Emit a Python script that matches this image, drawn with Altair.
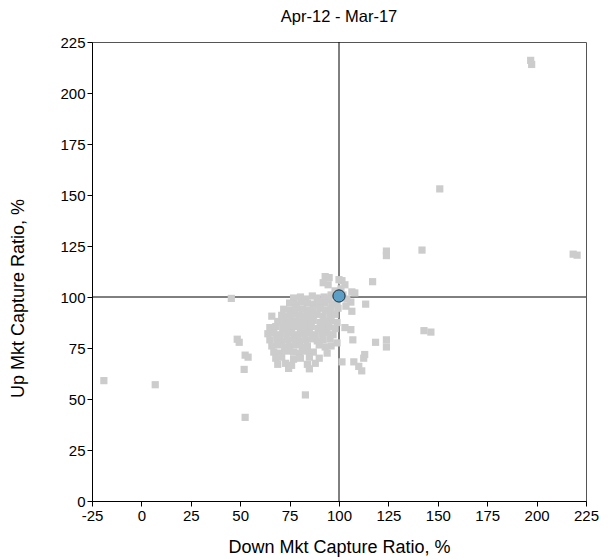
import altair as alt
import pandas as pd

# Scattered peers outside the main cluster (Down capture %, Up capture %)
outlier_down = [-19, 7, 45.5, 48.5, 49.5, 52.5, 54, 52, 52.5, 66, 83,
                197, 197.5, 151, 218.5, 220.5, 142, 124, 124, 117, 113.5,
                143, 146.5, 124, 124, 118.5, 113, 112.5, 107.5, 110, 111.5,
                101.5, 107, 99, 103, 106, 106.5, 108, 106.5, 101.5,
                93, 95, 92, 94.5, 100, 103, 101, 104, 106, 103.5, 98, 96, 102]
outlier_up = [59, 57, 99.3, 79.3, 77.8, 71.5, 70.5, 64.5, 41, 90.6, 52,
              216, 214, 153, 121, 120.5, 123, 122.5, 120.3, 107.5, 96.5,
              83.5, 82.8, 79, 75.5, 77.8, 71.8, 70, 68.2, 66, 63.8,
              68.2, 79, 77.5, 85, 84, 93, 102, 102.5, 108,
              110, 109.5, 107, 106, 108.5, 106, 104, 99, 97.5, 95.5, 103, 101, 101]

# Dense main cluster
cluster_down = [77, 80.5, 83, 86.5, 89, 92.5, 95,
                75, 78.5, 81, 84, 87.5, 90, 93, 96.5, 99,
                72, 75.5, 78, 81.5, 84, 87, 90.5, 93, 96, 99.5,
                71, 74, 77.5, 80, 83, 86.5, 89, 92, 95.5, 98,
                69, 72.5, 75, 78, 81.5, 84, 87, 90.5, 93, 96, 99,
                65, 68, 71.5, 74, 77, 80.5, 83, 86, 89.5, 92, 95, 98,
                64, 67, 70, 73.5, 76, 79, 82.5, 85, 88, 91.5, 94, 97,
                65, 68.5, 71, 74, 77.5, 80, 83, 86.5, 89, 92, 95.5,
                66, 69, 72.5, 75, 78, 81.5, 84, 90, 93, 96,
                67, 70, 73.5, 77, 80, 83.5, 87, 94,
                68, 71, 77, 80.5, 85, 90,
                69, 73, 76, 84, 88,
                74.5, 85]
cluster_up = [99.5, 100, 99, 100.5, 99.5, 100, 99,
              97, 96.5, 97.5, 97, 96.5, 97.5, 97, 96.5, 97,
              94, 93.5, 94.5, 94, 93.5, 94, 94.5, 93.5, 94, 94.5,
              91, 90.5, 91.5, 91, 90.5, 91, 91.5, 90.5, 91, 91.5,
              88, 87.5, 88.5, 88, 87.5, 88, 88.5, 87.5, 88, 88.5, 87.5,
              85, 85.5, 84.5, 85, 85.5, 84.5, 85, 85.5, 84.5, 85, 85.5, 84.5,
              82, 82.5, 81.5, 82, 82.5, 81.5, 82, 82.5, 81.5, 82, 82.5, 81.5,
              79, 79.5, 78.5, 79, 79.5, 78.5, 79, 79.5, 78.5, 79, 79.5,
              76, 76.5, 75.5, 76, 76.5, 75.5, 76, 76.5, 75.5, 76,
              73, 72.5, 73.5, 73, 72.5, 73.5, 73, 72.5,
              70, 70.5, 69.5, 70, 70.5, 70,
              67, 67.5, 66.5, 67, 67.5,
              65, 64.8]

# Highlighted fund
fund_down = [100]
fund_up = [100.5]

x_ticks = [-25, 0, 25, 50, 75, 100, 125, 150, 175, 200, 225]
y_ticks = [0, 25, 50, 75, 100, 125, 150, 175, 200, 225]

peers = pd.DataFrame({
    "down": outlier_down + cluster_down,
    "up": outlier_up + cluster_up,
})
fund = pd.DataFrame({"down": fund_down, "up": fund_up})
ref_x = pd.DataFrame({"v": [100]})
ref_y = pd.DataFrame({"v": [100]})

FONT = "Liberation Sans"
LABEL_EXPR = "datum.value < 0 ? '-' + format(-datum.value, 'd') : format(datum.value, 'd')"

x_scale = alt.Scale(domain=[-25, 225], nice=False, zero=False)
y_scale = alt.Scale(domain=[0, 225], nice=False, zero=False)

x_axis = alt.Axis(values=x_ticks, title="Down Mkt Capture Ratio, %", grid=False,
                  titlePadding=15, titleFontSize=18, labelFontSize=15,
                  labelFlush=False, labelExpr=LABEL_EXPR)
y_axis = alt.Axis(values=y_ticks, title="Up Mkt Capture Ratio, %", grid=False,
                  titlePadding=32, titleFontSize=18, labelFontSize=15,
                  labelFlush=False, titleY=256, labelExpr=LABEL_EXPR)

vline = alt.Chart(ref_x).mark_rule(color="black", strokeWidth=1).encode(
    x=alt.X("v:Q", scale=x_scale, axis=x_axis)
)
hline = alt.Chart(ref_y).mark_rule(color="black", strokeWidth=1).encode(
    y=alt.Y("v:Q", scale=y_scale, axis=y_axis)
)

pts = alt.Chart(peers).mark_point(
    shape="square", filled=True, size=52, color="#cccccc", opacity=1
).encode(
    x=alt.X("down:Q", scale=x_scale, axis=x_axis),
    y=alt.Y("up:Q", scale=y_scale, axis=y_axis),
)

fund_pt = alt.Chart(fund).mark_point(
    shape="circle", filled=True, size=150, fill="#5b9ec6",
    stroke="#1b2a36", strokeWidth=1, opacity=1
).encode(
    x=alt.X("down:Q", scale=x_scale, axis=x_axis),
    y=alt.Y("up:Q", scale=y_scale, axis=y_axis),
)

chart = alt.layer(vline, hline, pts, fund_pt).properties(
    width=494,
    height=459,
    title=alt.TitleParams("Apr-12 - Mar-17", fontSize=16.5, fontWeight="normal",
                          font=FONT, color="black", offset=10),
    autosize=alt.AutoSizeParams(type="none"),
    padding={"left": 84, "top": 34, "right": 22, "bottom": 58},
).configure_axis(
    labelFont=FONT, titleFont=FONT, labelColor="black", titleColor="black",
    titleFontWeight="normal", domainColor="black", tickColor="black",
    tickSize=5, labelPadding=2,
).configure_view(
    stroke="#555555", strokeWidth=1
)

chart.save("out.html", embed_options={"renderer": "svg", "actions": False})
